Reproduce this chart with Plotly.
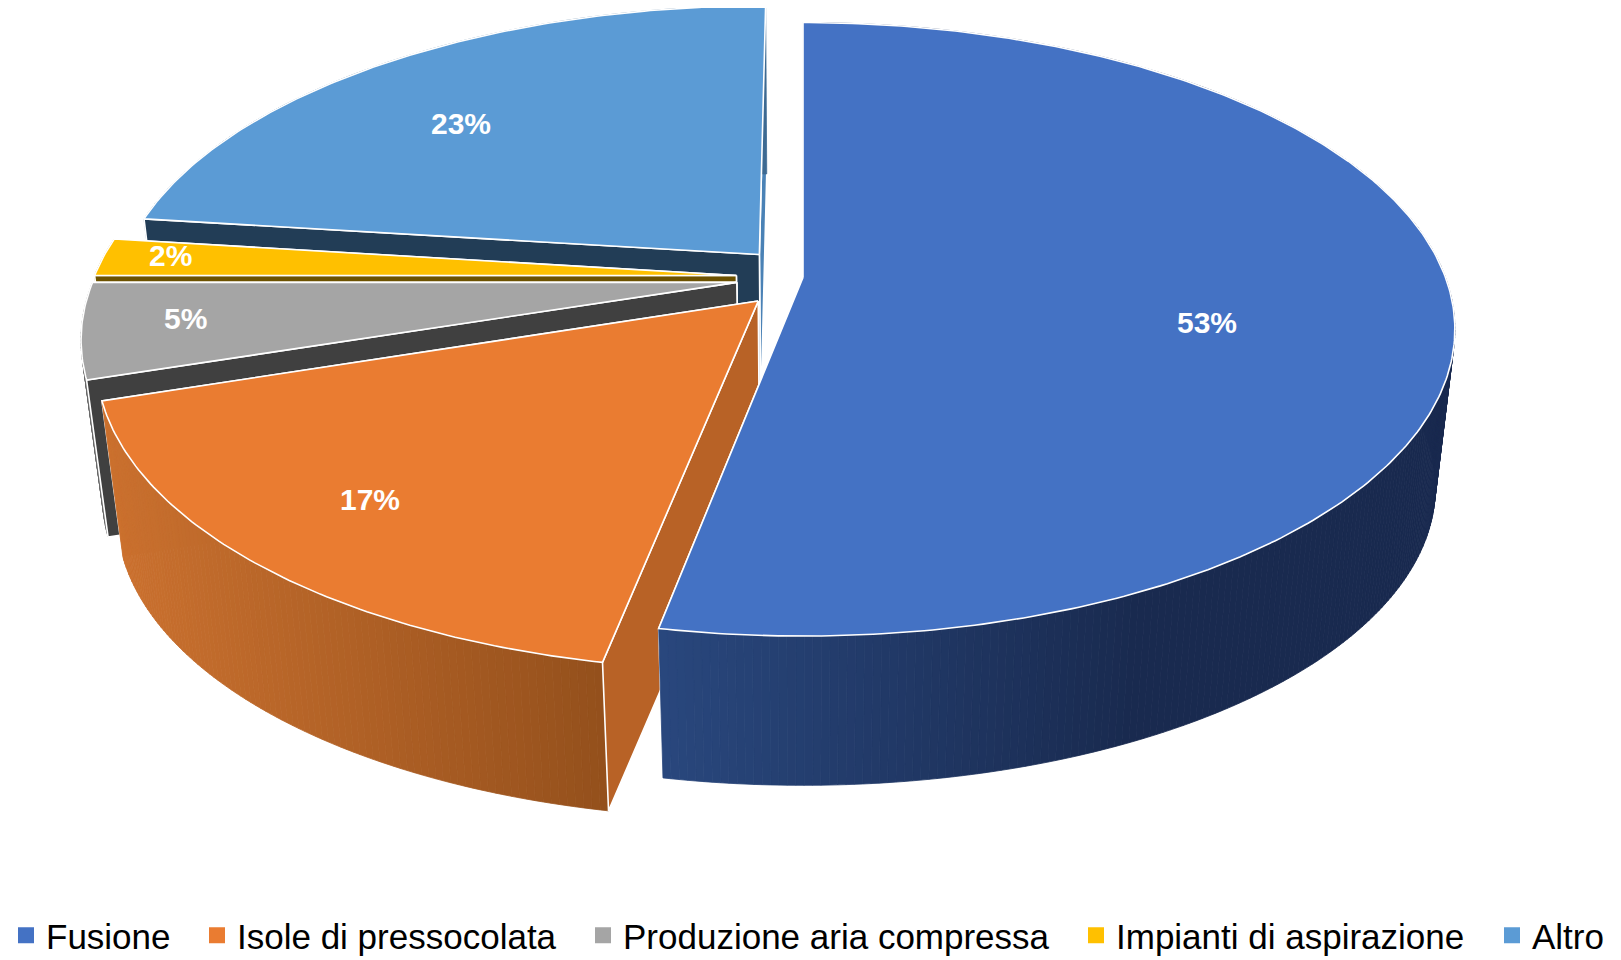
import numpy as np
import plotly.graph_objects as go

# ---- data ----
categories = ["Fusione", "Isole di pressocolata", "Produzione aria compressa", "Impianti di aspirazione", "Altro"]
shares = [53, 17, 5, 2, 23]
explode = [0.0, 0.104, 0.104, 0.104, 0.104]
top_colors = ["#4472C4", "#EA7C31", "#A5A5A5", "#FFC000", "#5B9BD5"]
start_face_colors = ["#27457A", "#B86226", "#404040", "#6D5200", "#223D56"]
end_face_colors = ["#27457A", "#B86226", "#404040", "#6D5200", "#4A82B6"]
wall_left = ["#29477D", "#CB712F", "#6A6A6A", "#AA8000", "#3D6A92"]
wall_right = ["#192A4F", "#94501C", "#6A6A6A", "#AA8000", "#3D6A92"]
label_xy = [(1207, 322), (370, 499), (185, 318), (170, 255), (461, 123)]
legend_left_px = [-2, 189, 575, 1068, 1484]

# ---- projection of the tilted disc ----
CX, CY, A, B, K, DEPTH, SHRINK = 803.0, 277.5, 642.5, 298.0, 0.1689, 160.0, 0.97
PAGE_W, PAGE_H, INSET = 1605, 952, 8


def project(u, v, low=False):
    w = 1 + K * v
    s = SHRINK if low else 1.0
    return CX + s * A * u / w, CY + (DEPTH if low else 0) - s * B * v / w


def mix(c1, c2, t):
    a = [int(c1[i:i + 2], 16) for i in (1, 3, 5)]
    b = [int(c2[i:i + 2], 16) for i in (1, 3, 5)]
    return "#%02x%02x%02x" % tuple(round(p + (q - p) * t) for p, q in zip(a, b))


fig = go.Figure()


def poly(xs, ys, fill, line="white", width=1.6):
    fig.add_trace(go.Scatter(x=list(xs), y=list(ys), mode="lines", fill="toself", fillcolor=fill,
                             line=dict(color=line, width=width), hoverinfo="skip", showlegend=False))


edges = np.cumsum([0] + shares) / sum(shares) * 2 * np.pi
for i in [4, 3, 2, 1, 0]:
    a0, a1 = edges[i], edges[i + 1]
    mid = (a0 + a1) / 2
    ou, ov = explode[i] * np.sin(mid), explode[i] * np.cos(mid)
    th = np.linspace(a0, a1, max(int((a1 - a0) * 90), 6))
    u, v = ou + np.sin(th), ov + np.cos(th)
    tx, ty = project(u, v)
    bx, by = project(u, v, True)
    apx, apy = project(ou, ov)
    bpx, bpy = project(ou, ov, True)

    # hidden end face
    poly([apx, tx[-1], bx[-1], bpx, apx], [apy, ty[-1], by[-1], bpy, apy], end_face_colors[i])

    # outer wall with a left-to-right shade
    lo, hi = tx.min(), tx.max()
    for j in range(len(th) - 1):
        xm = (tx[j] + tx[j + 1]) / 2
        t = (xm - lo) / max(hi - lo, 1)
        if i == 0:
            t = min(1.0, (xm - 660) / 480)
        col = mix(wall_left[i], wall_right[i], t)
        poly([tx[j], tx[j + 1], bx[j + 1], bx[j], tx[j]], [ty[j], ty[j + 1], by[j + 1], by[j], ty[j]], col, col, 0.8)

    # start face
    poly([apx, tx[0], bx[0], bpx, apx], [apy, ty[0], by[0], bpy, apy], start_face_colors[i])

    # top
    poly(np.r_[apx, tx, apx], np.r_[apy, ty, apy], top_colors[i])

# one legend per entry so that each sits where the reference puts it
legends = {}
for n, (name, col, left) in enumerate(zip(categories, top_colors, legend_left_px)):
    key = "legend" if n == 0 else f"legend{n + 1}"
    fig.add_trace(go.Scatter(x=[None], y=[None], mode="markers", name=name, legend=key,
                             marker=dict(symbol="square", size=16, color=col)))
    legends[key] = dict(orientation="h", x=left / PAGE_W, xanchor="left", y=-5 / PAGE_H, yanchor="bottom",
                        font=dict(family="Liberation Sans", size=35, color="black"),
                        bgcolor="rgba(0,0,0,0)")

for s, (lx, ly) in zip(shares, label_xy):
    fig.add_annotation(x=lx, y=ly, text=f"<b>{s}%</b>", showarrow=False,
                       font=dict(family="Liberation Sans", size=30, color="white"))

fig.update_layout(
    width=PAGE_W, height=PAGE_H, margin=dict(l=0, r=0, t=0, b=0, autoexpand=False),
    paper_bgcolor="white", plot_bgcolor="white",
    xaxis=dict(range=[INSET, INSET + PAGE_W], visible=False, fixedrange=True),
    yaxis=dict(range=[INSET + PAGE_H, INSET], visible=False, fixedrange=True),
    **legends,
)
fig.write_html("out.html")
